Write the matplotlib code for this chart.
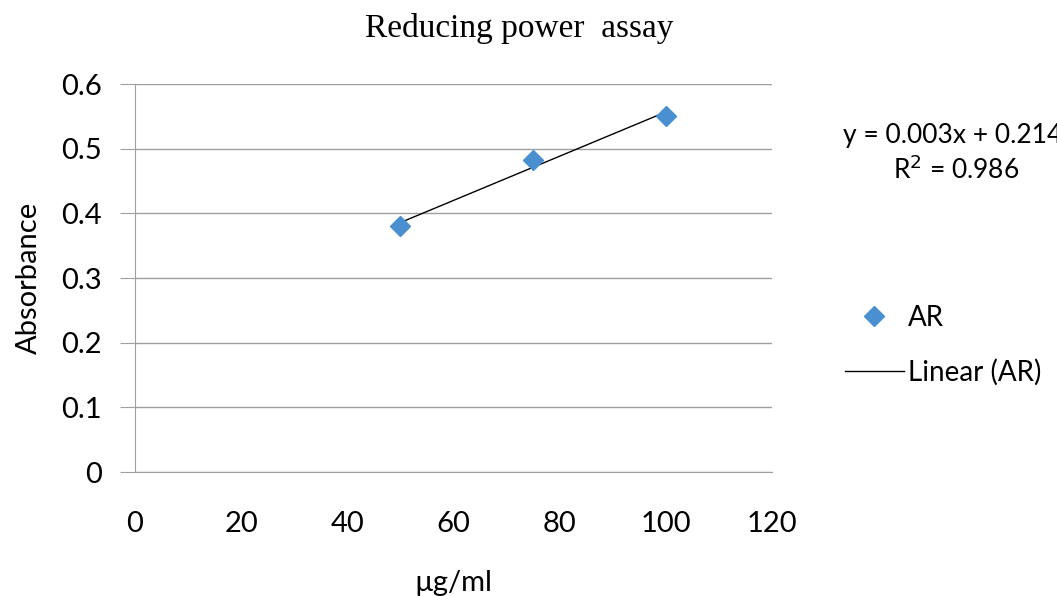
import numpy as np
import matplotlib
matplotlib.use("Agg")
import matplotlib.pyplot as plt

# data
conc = [50, 75, 100]
absorbance = [0.380, 0.483, 0.551]
x_ticks = [0, 20, 40, 60, 80, 100, 120]
y_ticks = [0, 0.1, 0.2, 0.3, 0.4, 0.5, 0.6]

plt.rcParams['font.family'] = ['Lato', 'DejaVu Sans']

fig = plt.figure(figsize=(10.57, 5.96), dpi=100)
ax = fig.add_axes([0.1277, 0.208, 0.6027, 0.651])

blue = "#4a8fd0"
pts, = ax.plot(conc, absorbance, linestyle="none", marker="D", markersize=10.5,
               color=blue, label="AR", zorder=3)

# linear trendline
slope, icept = np.polyfit(conc, absorbance, 1)
xs = np.array([min(conc), max(conc)])
trend, = ax.plot(xs, slope * xs + icept, color="black", lw=1, label="Linear (AR)", zorder=2)

ax.set_xlim(0, 120)
ax.set_ylim(0, 0.6)
ax.set_xticks(x_ticks)
ax.set_yticks(y_ticks)
ax.set_yticklabels([("%g" % v) for v in y_ticks])
ax.grid(axis="y", color="#a0a0a0", lw=1)
ax.set_axisbelow(True)
for s in ["top", "right"]:
    ax.spines[s].set_visible(False)
ax.spines["left"].set_color("#a0a0a0")
ax.spines["bottom"].set_color("#a0a0a0")
ax.tick_params(axis="y", length=11, color="#a0a0a0", labelsize=21, pad=13)
ax.tick_params(axis="x", length=0, labelsize=21, pad=28)

ax.set_ylabel("Absorbance", fontsize=21, labelpad=14)
ax.set_xlabel("µg/ml", fontsize=21, labelpad=24)

fig.text(0.491, 0.952, "Reducing power  assay", family="Liberation Serif",
         fontsize=24, ha="center", va="center")

# equation runs off the right edge, as in the original
fig.text(0.7975, 0.773, "y = 0.003x + 0.214", fontsize=19, ha="left", va="center")
fig.text(0.905, 0.716, "R$^2$ = 0.986", fontsize=19, ha="center", va="center")

fig.legend([pts, trend], ["AR", "Linear (AR)"], loc="center left",
           bbox_to_anchor=(0.776, 0.421), frameon=False, fontsize=20,
           labelspacing=1.0, handlelength=2.1, handletextpad=0.15)

fig.savefig("out.png", dpi=100)
